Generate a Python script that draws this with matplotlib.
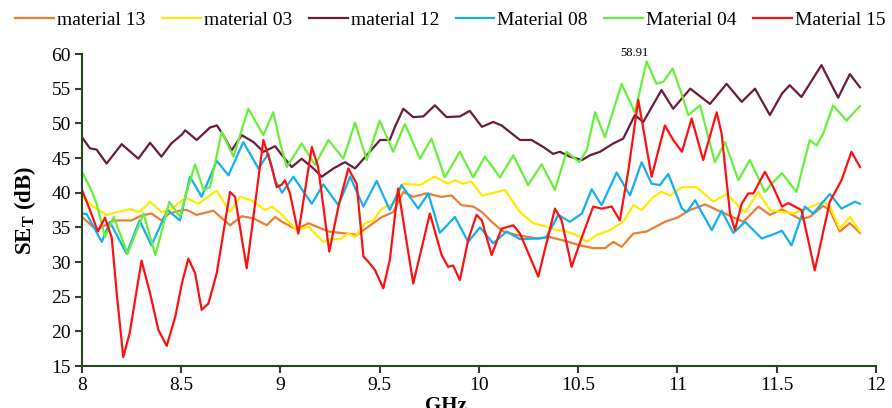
import matplotlib
matplotlib.use('Agg')
from matplotlib import pyplot as plt

plt.rcParams['font.family'] = ['Liberation Serif', 'DejaVu Serif']
plt.rcParams['mathtext.fontset'] = 'custom'
plt.rcParams['mathtext.rm'] = 'Liberation Serif'
plt.rcParams['mathtext.bf'] = 'Liberation Serif:bold'

# frequenze (GHz) e schermatura SE_T (dB) per ogni materiale
f_m13 = [8.0, 8.074, 8.16, 8.25, 8.3, 8.35, 8.40, 8.44, 8.504, 8.528, 8.578, 8.662, 8.746, 8.805, 8.864,
         8.931, 8.973, 9.008, 9.082, 9.141, 9.242, 9.334, 9.384, 9.443, 9.512, 9.568, 9.619, 9.669, 9.736,
         9.812, 9.862, 9.912, 9.971, 10.015, 10.064, 10.123, 10.19, 10.29, 10.358, 10.44, 10.51, 10.576,
         10.635, 10.677, 10.719, 10.778, 10.845, 10.937, 11.0, 11.063, 11.14, 11.215, 11.332, 11.408,
         11.466, 11.527, 11.617, 11.667, 11.734, 11.768, 11.818, 11.869, 11.92]
se_m13 = [36.5, 34.6, 36.0, 36.0, 36.7, 37.0, 36.0, 37.0, 37.5, 37.5, 36.8, 37.4, 35.3, 36.6, 36.3,
          35.3, 36.5, 35.8, 34.7, 35.6, 34.4, 34.1, 33.9, 35.1, 36.5, 37.2, 40.1, 39.4, 39.9,
          39.4, 39.6, 38.2, 38.0, 37.2, 35.8, 34.4, 33.9, 33.4, 33.6, 33.0, 32.4, 32.0,
          32.0, 32.9, 32.2, 34.1, 34.4, 35.8, 36.4, 37.5, 38.3, 37.3, 35.8, 38.0,
          36.8, 37.6, 36.2, 36.5, 38.1, 37.5, 34.4, 35.6, 34.2]

f_m03 = [8.0, 8.057, 8.124, 8.175, 8.24, 8.29, 8.343, 8.40, 8.45, 8.504, 8.528, 8.586, 8.679, 8.746,
         8.797, 8.855, 8.922, 8.956, 9.008, 9.082, 9.141, 9.216, 9.25, 9.30, 9.342, 9.376, 9.426, 9.468,
         9.512, 9.568, 9.619, 9.703, 9.778, 9.845, 9.879, 9.921, 9.963, 10.015, 10.064, 10.131, 10.207,
         10.274, 10.341, 10.391, 10.442, 10.50, 10.543, 10.593, 10.66, 10.727, 10.778, 10.82, 10.879,
         10.92, 10.962, 11.023, 11.097, 11.181, 11.248, 11.341, 11.408, 11.466, 11.527, 11.583, 11.65,
         11.734, 11.768, 11.818, 11.869, 11.92]
se_m03 = [39.4, 38.0, 36.8, 37.2, 37.6, 37.2, 38.7, 37.2, 37.6, 38.9, 39.2, 38.4, 40.3, 37.2,
          39.4, 38.9, 37.5, 38.0, 36.8, 34.6, 35.1, 32.9, 33.3, 33.3, 34.1, 33.6, 35.6, 36.0,
          37.7, 38.4, 41.3, 41.1, 42.3, 41.3, 41.8, 41.3, 41.6, 39.6, 39.9, 40.4, 37.2,
          35.6, 35.1, 34.6, 34.4, 33.8, 32.9, 33.9, 34.6, 35.8, 38.2, 37.5, 39.4,
          40.1, 39.6, 40.8, 40.8, 38.7, 39.8, 37.2, 40.1, 37.5, 37.2, 37.0, 37.7,
          38.7, 38.0, 34.8, 36.5, 34.4]

f_m12 = [8.0, 8.04, 8.074, 8.124, 8.2, 8.284, 8.343, 8.40, 8.45, 8.504, 8.52, 8.578, 8.645, 8.68, 8.712,
         8.754, 8.805, 8.864, 8.914, 8.973, 9.008, 9.057, 9.107, 9.166, 9.208, 9.267, 9.325, 9.376, 9.435,
         9.502, 9.551, 9.577, 9.619, 9.669, 9.72, 9.778, 9.837, 9.904, 9.954, 10.015, 10.072, 10.114,
         10.207, 10.265, 10.324, 10.374, 10.408, 10.458, 10.519, 10.56, 10.61, 10.677, 10.727, 10.786,
         10.828, 10.92, 10.979, 11.023, 11.065, 11.164, 11.248, 11.324, 11.391, 11.466, 11.527, 11.566,
         11.625, 11.726, 11.81, 11.869, 11.92]
se_m12 = [48.0, 46.4, 46.2, 44.2, 47.0, 44.9, 47.2, 45.2, 47.1, 48.4, 49.0, 47.6, 49.4, 49.7, 48.3,
          46.1, 48.3, 47.3, 45.9, 46.7, 45.4, 43.7, 44.9, 43.5, 42.3, 43.5, 44.4, 43.5, 45.4,
          47.6, 47.6, 49.5, 52.1, 50.9, 51.0, 52.6, 50.9, 51.0, 51.8, 49.5, 50.2, 49.7,
          47.6, 47.6, 46.6, 45.6, 45.9, 45.2, 44.7, 45.4, 45.9, 47.1, 47.8, 51.2,
          50.2, 54.8, 52.1, 53.6, 55.0, 52.8, 55.7, 53.1, 55.0, 51.2, 54.3, 55.5,
          53.8, 58.4, 53.7, 57.1, 55.2]

f_m08 = [8.0, 8.024, 8.10, 8.14, 8.225, 8.29, 8.35, 8.43, 8.494, 8.544, 8.603, 8.679, 8.738, 8.813,
         8.889, 8.939, 8.973, 9.008, 9.065, 9.158, 9.216, 9.292, 9.351, 9.418, 9.485, 9.551, 9.61, 9.694,
         9.745, 9.803, 9.879, 9.946, 10.005, 10.072, 10.14, 10.207, 10.307, 10.34, 10.4, 10.458, 10.519,
         10.568, 10.618, 10.694, 10.761, 10.82, 10.87, 10.912, 10.954, 11.023, 11.047, 11.089, 11.173,
         11.223, 11.282, 11.341, 11.425, 11.475, 11.527, 11.575, 11.642, 11.684, 11.768, 11.827, 11.894,
         11.92]
se_m08 = [37.0, 36.9, 32.9, 35.8, 31.2, 36.0, 32.4, 37.5, 36.0, 42.3, 39.4, 44.6, 42.5, 47.3,
          43.5, 45.6, 41.8, 40.0, 42.3, 38.4, 41.2, 38.2, 42.3, 38.0, 41.7, 37.5, 41.1, 37.7,
          39.9, 34.2, 36.5, 32.9, 35.0, 32.7, 34.4, 33.3, 33.4, 33.6, 36.8, 35.8, 37.0,
          40.5, 38.2, 42.9, 39.6, 44.4, 41.3, 41.1, 42.7, 37.7, 37.2, 38.9, 34.6,
          37.4, 34.2, 35.8, 33.4, 33.9, 34.5, 32.4, 38.0, 37.0, 39.8, 37.7, 38.7,
          38.4]

f_m04 = [8.0, 8.04, 8.074, 8.116, 8.16, 8.23, 8.31, 8.37, 8.44, 8.494, 8.52, 8.57, 8.612, 8.645, 8.704,
         8.763, 8.838, 8.914, 8.964, 9.0, 9.032, 9.107, 9.174, 9.242, 9.317, 9.376, 9.435, 9.5, 9.568,
         9.627, 9.703, 9.761, 9.828, 9.904, 9.971, 10.03, 10.106, 10.173, 10.248, 10.316, 10.383, 10.442,
         10.505, 10.543, 10.585, 10.635, 10.719, 10.786, 10.845, 10.895, 10.929, 10.976, 11.023, 11.055,
         11.114, 11.189, 11.24, 11.307, 11.365, 11.441, 11.475, 11.527, 11.6, 11.667, 11.701, 11.734,
         11.785, 11.852, 11.92]
se_m04 = [43.0, 40.8, 38.4, 33.6, 36.5, 31.2, 37.0, 31.0, 38.7, 36.5, 39.4, 44.1, 40.4, 40.8, 48.8,
          45.2, 52.1, 48.3, 51.6, 47.0, 43.7, 47.1, 44.0, 47.6, 44.9, 50.1, 44.7, 50.4, 45.9,
          49.9, 44.9, 47.8, 42.2, 45.9, 42.2, 45.2, 42.2, 45.4, 41.1, 44.1, 40.4, 45.9,
          44.4, 46.1, 51.6, 48.0, 55.7, 51.6, 58.91, 55.7, 56.0, 57.9, 54.1, 51.2,
          52.6, 44.4, 47.3, 41.8, 44.7, 40.1, 41.3, 42.8, 40.1, 47.6, 46.8, 48.5,
          52.6, 50.4, 52.5]

f_m15 = [8.0, 8.04, 8.08, 8.116, 8.15, 8.175, 8.208, 8.24, 8.30, 8.343, 8.385, 8.427, 8.47, 8.504,
         8.536, 8.57, 8.603, 8.637, 8.679, 8.746, 8.771, 8.83, 8.914, 8.956, 8.981, 9.008, 9.023, 9.048,
         9.09, 9.158, 9.19, 9.246, 9.292, 9.342, 9.384, 9.418, 9.45, 9.477, 9.518, 9.551, 9.593, 9.669,
         9.753, 9.812, 9.845, 9.87, 9.904, 9.946, 9.988, 10.015, 10.064, 10.114, 10.173, 10.207, 10.299,
         10.383, 10.417, 10.467, 10.519, 10.576, 10.618, 10.669, 10.71, 10.753, 10.803, 10.87, 10.937,
         10.979, 11.023, 11.072, 11.13, 11.198, 11.223, 11.265, 11.29, 11.324, 11.357, 11.383, 11.441,
         11.483, 11.527, 11.558, 11.592, 11.625, 11.659, 11.692, 11.726, 11.768, 11.827, 11.877, 11.92]
se_m15 = [40.4, 37.5, 34.4, 36.4, 33.5, 25.5, 16.3, 19.7, 30.2, 25.5, 20.2, 17.9, 22.1, 27.0,
          30.5, 28.4, 23.1, 24.0, 28.4, 40.1, 39.4, 29.1, 47.6, 43.7, 40.8, 41.2, 41.8, 39.9,
          34.1, 46.6, 43.7, 31.5, 38.0, 43.5, 41.3, 30.8, 29.8, 28.8, 26.2, 30.3, 40.6, 26.9,
          37.0, 31.0, 29.3, 29.5, 27.4, 33.2, 36.8, 36.0, 31.0, 34.8, 35.3, 34.1, 27.9,
          37.7, 36.0, 29.3, 33.6, 38.0, 37.7, 38.0, 36.0, 43.2, 53.4, 42.3, 49.7,
          47.6, 45.9, 50.7, 44.7, 51.6, 48.5, 37.0, 34.6, 38.4, 39.9, 39.9, 43.0,
          40.8, 38.0, 38.5, 38.0, 37.5, 33.2, 28.8, 33.2, 38.7, 41.8, 45.9, 43.7]

serie = [(f_m13, se_m13), (f_m03, se_m03), (f_m12, se_m12),
         (f_m08, se_m08), (f_m04, se_m04), (f_m15, se_m15)]
etichette = ['material 13', 'material 03', 'material 12', 'Material 08', 'Material 04', 'Material 15']
colori = ['#ED7D31', '#FFEB00', '#6A1B3F', '#12B0EC', '#66F03A', '#FF1010']
picco_f, picco_se = 10.845, 58.91

verde = '#234a1e'

fig = plt.figure(figsize=(8.92, 4.08), dpi=100)
ax = fig.add_axes([0.0919, 0.1029, 0.890, 0.7647])

for (xs, ys), nome, col in zip(serie, etichette, colori):
    ax.plot(xs, ys, color=col, linewidth=1.6, label=nome)

# etichetta del massimo
ax.annotate('%.2f' % picco_se, xy=(picco_f, picco_se), xytext=(-9, 6), textcoords='offset points',
            ha='center', va='center', fontsize=9, annotation_clip=False)

ax.set_xlim(8, 12)
ax.set_ylim(15, 60)
ax.set_xticks([8, 8.5, 9, 9.5, 10, 10.5, 11, 11.5, 12])
ax.set_xticklabels(['8', '8.5', '9', '9.5', '10', '10.5', '11', '11.5', '12'])
ax.set_yticks(range(15, 61, 5))

for lato in ['top', 'right']:
    ax.spines[lato].set_visible(False)
for lato in ['left', 'bottom']:
    ax.spines[lato].set_color(verde)
    ax.spines[lato].set_linewidth(1.5)
ax.tick_params(direction='out', length=5, width=1.5, color=verde, labelsize=14, pad=3)

ax.set_ylabel(r'$\mathbf{SE_T}$ (dB)', fontsize=16.5, fontweight='bold')
ax.yaxis.set_label_coords(-0.055, 0.5)
ax.set_xlabel('GHz', fontsize=15, fontweight='bold')
ax.xaxis.set_label_coords(0.458, -0.095)

fig.legend(loc='upper center', bbox_to_anchor=(0.505, 1.0), ncol=6, frameon=False, fontsize=14,
           handlelength=2.0, handletextpad=0.15, columnspacing=0.85, borderaxespad=0.2)

fig.savefig('out.png', dpi=100)
